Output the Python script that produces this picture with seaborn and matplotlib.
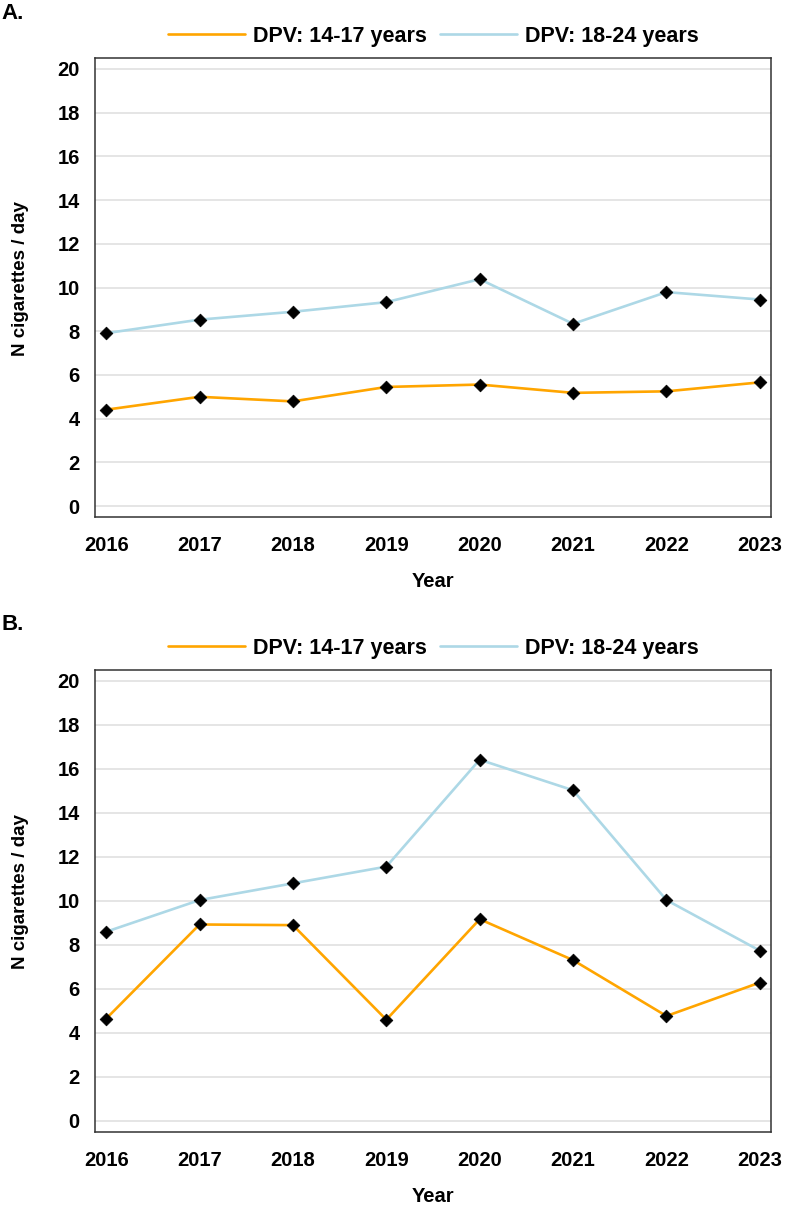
import numpy as np
import pandas as pd
import matplotlib
matplotlib.use("Agg")
import matplotlib.pyplot as plt
import seaborn as sns

# Data
years = [2016, 2017, 2018, 2019, 2020, 2021, 2022, 2023]
groups = ["DPV: 14-17 years", "DPV: 18-24 years"]

a_14_17 = [4.41, 5.00, 4.79, 5.45, 5.56, 5.18, 5.25, 5.66]
a_18_24 = [7.91, 8.53, 8.89, 9.33, 10.38, 8.34, 9.79, 9.45]

b_14_17 = [4.65, 8.93, 8.90, 4.60, 9.17, 7.31, 4.77, 6.29]
b_18_24 = [8.60, 10.04, 10.80, 11.56, 16.42, 15.03, 10.04, 7.74]

y_ticks = [0, 2, 4, 6, 8, 10, 12, 14, 16, 18, 20]
colors = ["#FFA500", "#ADD8E6"]

sns.set_theme(style="white")
plt.rcParams['font.family'] = ['Liberation Sans', 'DejaVu Sans']
plt.rcParams['font.weight'] = 'bold'
plt.rcParams['text.color'] = 'black'
plt.rcParams['axes.labelcolor'] = 'black'
plt.rcParams['xtick.color'] = 'black'
plt.rcParams['ytick.color'] = 'black'


def make_df(young, old):
    return pd.DataFrame({
        "Year": years * 2,
        "value": young + old,
        "group": [groups[0]] * len(years) + [groups[1]] * len(years),
    })


def draw_panel(ax, df, tag):
    sns.lineplot(data=df, x="Year", y="value", hue="group", hue_order=groups,
                 palette=colors, linewidth=1.9, ax=ax, zorder=3)
    sns.scatterplot(data=df, x="Year", y="value", color="black", marker="D",
                    s=42, edgecolor="black", legend=False, ax=ax, zorder=4)

    ax.set_xlim(2015.88, 2023.12)
    ax.set_ylim(-0.5, 20.5)
    ax.set_xticks(years)
    ax.set_yticks(y_ticks)
    ax.grid(axis="y", color="#e3e3e3", linewidth=1.3, zorder=0)
    ax.grid(axis="x", visible=False)
    for sp in ax.spines.values():
        sp.set_color("#333333")
        sp.set_linewidth(1.1)
    ax.tick_params(axis="both", which="major", direction="out", length=7,
                   width=1.0, color="#333333", labelcolor="black",
                   labelsize=14.5)
    ax.tick_params(axis="x", pad=7)
    ax.tick_params(axis="y", pad=4)
    for lab in ax.get_xticklabels() + ax.get_yticklabels():
        lab.set_fontweight("bold")

    ax.set_xlabel("Year", fontsize=14.5, fontweight="bold", labelpad=12)
    ax.set_ylabel("N cigarettes / day", fontsize=13.5, fontweight="bold")
    ax.yaxis.set_label_coords(-0.097, 0.52)

    handles, labels = ax.get_legend_handles_labels()
    ax.legend(handles=handles, labels=labels, loc="lower center",
              bbox_to_anchor=(0.5, 1.0), ncol=2, frameon=False,
              fontsize=15.5, handlelength=3.6, handletextpad=0.35,
              columnspacing=0.6, borderaxespad=0.12)
    for t in ax.get_legend().get_texts():
        t.set_fontweight("bold")

    ax.text(-0.138, 1.098, tag, transform=ax.transAxes, fontsize=16,
            fontweight="bold", ha="left", va="center")


fig = plt.figure(figsize=(7.87, 12.06), dpi=100)
ax_a = fig.add_axes([0.1207, 0.5713, 0.859, 0.3806])
ax_b = fig.add_axes([0.1207, 0.0614, 0.859, 0.3831])

draw_panel(ax_a, make_df(a_14_17, a_18_24), "A.")
draw_panel(ax_b, make_df(b_14_17, b_18_24), "B.")

fig.savefig("out.png", dpi=100)
